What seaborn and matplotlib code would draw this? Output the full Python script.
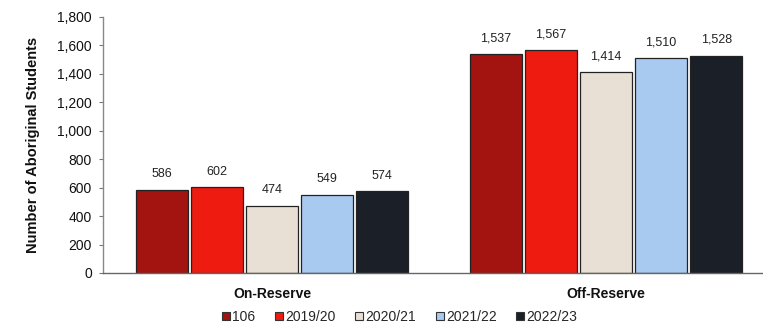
import matplotlib
matplotlib.use("Agg")
import matplotlib.pyplot as plt
import seaborn as sns
import pandas as pd
from matplotlib.lines import Line2D

categories = ["On-Reserve", "Off-Reserve"]
years = ["106", "2019/20", "2020/21", "2021/22", "2022/23"]
values = {
    "106": [586, 1537],
    "2019/20": [602, 1567],
    "2020/21": [474, 1414],
    "2021/22": [549, 1510],
    "2022/23": [574, 1528],
}
colors = ["#a3130f", "#ee1b10", "#e8e0d4", "#a8caf0", "#1b1f27"]
yticks = [0, 200, 400, 600, 800, 1000, 1200, 1400, 1600, 1800]

rows = []
for y in years:
    for c, v in zip(categories, values[y]):
        rows.append({"cat": c, "year": y, "val": v})
df = pd.DataFrame(rows)

sns.set_theme(style="white")
plt.rcParams["font.family"] = ["Liberation Sans", "DejaVu Sans"]

fig = plt.figure(figsize=(7.63, 3.27), dpi=100)
ax = fig.add_axes([103 / 763, 54 / 327, (762 - 103) / 763, (273 - 17) / 327])

sns.barplot(data=df, x="cat", y="val", hue="year", hue_order=years,
            order=categories, palette=colors, width=0.825, gap=0.06,
            edgecolor="#222222", linewidth=0.9, saturation=1, ax=ax,
            legend=False)

for cont in ax.containers:
    ax.bar_label(cont, labels=[f"{v:,.0f}" for v in cont.datavalues],
                 padding=7, fontsize=9, color="#222222")

ax.set_xlim(-0.506, 1.467)
ax.set_ylim(0, 1800)
ax.set_yticks(yticks)
ax.set_yticklabels([f"{t:,}" for t in yticks], fontsize=10, color="#111111")
ax.set_xticks([0, 1])
ax.set_xticklabels(categories, fontsize=10, fontweight="bold", color="#111111")
ax.tick_params(axis="x", length=0, pad=10)
ax.tick_params(axis="y", length=3, width=0.8, color="#777777", direction="out", pad=5, left=True)
ax.set_xlabel("")
ax.set_ylabel("Number of Aboriginal Students", fontsize=10.5, fontweight="bold",
              color="#111111", labelpad=12)
for s in ["top", "right"]:
    ax.spines[s].set_visible(False)
ax.spines["left"].set_color("#888888")
ax.spines["bottom"].set_color("#666666")
ax.spines["left"].set_linewidth(1.0)
ax.spines["bottom"].set_linewidth(1.0)

handles = [Line2D([0], [0], marker="s", linestyle="", markersize=6,
                  markerfacecolor=c, markeredgecolor="#333333", markeredgewidth=0.8)
           for c in colors]
fig.legend(handles, years, loc="center", bbox_to_anchor=(399 / 763, 1 - 317 / 327),
           ncol=5, frameon=False, fontsize=10, handletextpad=0.05,
           columnspacing=1.3, handlelength=0.8, borderpad=0.1)

fig.savefig("out.png", dpi=100, facecolor="white")
